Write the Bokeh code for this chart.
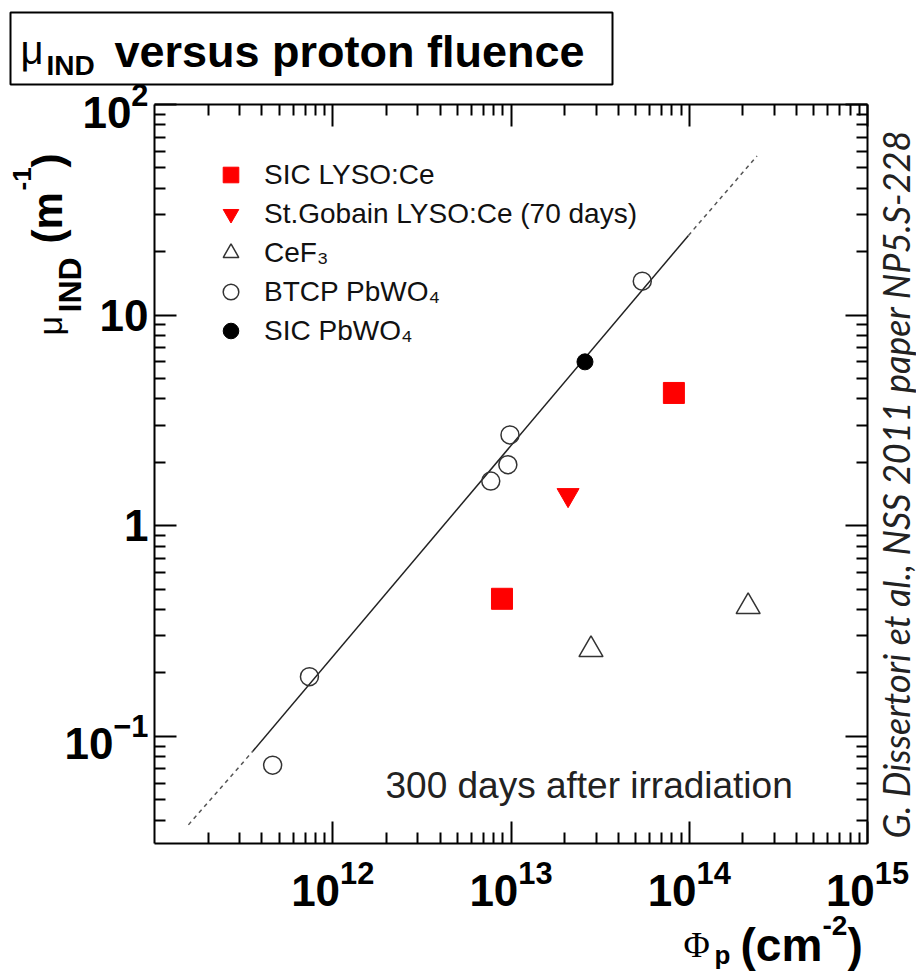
import math
from bokeh.plotting import figure
from bokeh.models import (LogAxis, FixedTicker, LogTickFormatter, CustomJSTickFormatter,
                          Label, Legend, LegendItem, BoxAnnotation)
from bokeh.embed import file_html
from bokeh.resources import INLINE

# ---------------- data ----------------
sic_lyso_x = [8.9e12, 8.2e13]
sic_lyso_y = [0.45, 4.27]
sg_lyso_x = [2.09e13]
sg_lyso_y = [1.40]
cef3_x = [2.81e13, 2.14e14]
cef3_y = [0.258, 0.413]
btcp_x = [4.6e11, 7.4e11, 7.7e12, 9.6e12, 9.87e12, 5.45e13]
btcp_y = [0.073, 0.192, 1.63, 1.95, 2.70, 14.5]
sic_pwo_x = [2.6e13]
sic_pwo_y = [6.0]

fit_low_x = [1.55e11, 3.56e11]
fit_low_y = [0.038, 0.085]
fit_mid_x = [3.56e11, 9.9e13]
fit_mid_y = [0.085, 23.9]
fit_high_x = [9.9e13, 2.4e14]
fit_high_y = [23.9, 57.0]

x_major = [1e12, 1e13, 1e14, 1e15]
y_major = [0.1, 1, 10, 100]
x_lim = (1e11, 1e15)
y_lim = (0.031, 100)

legend_labels = ["SIC LYSO:Ce", "St.Gobain LYSO:Ce (70 days)", "CeF\u2083",
                 "BTCP PbWO\u2084", "SIC PbWO\u2084"]

# ---------------- layout (pixels) ----------------
W, H = 916, 971
FL, FR, FT, FB = 154, 867, 104, 843   # axes box edges in the picture

# The frame covers the whole canvas; the axes box is drawn by axes fixed at the limits.
lx = (math.log10(x_lim[1]) - math.log10(x_lim[0])) / (FR - FL)
ly = (math.log10(y_lim[1]) - math.log10(y_lim[0])) / (FB - FT)
x_rng = (10 ** (math.log10(x_lim[0]) - FL * lx), 10 ** (math.log10(x_lim[1]) + (W - FR) * lx))
y_rng = (10 ** (math.log10(y_lim[0]) - (H - FB) * ly), 10 ** (math.log10(y_lim[1]) + FT * ly))

p = figure(width=W, height=H, x_axis_type="log", y_axis_type="log",
           x_range=x_rng, y_range=y_rng, toolbar_location=None,
           output_backend="svg", min_border=0)
p.grid.visible = False
p.outline_line_color = None
p.background_fill_color = "white"
p.border_fill_color = "white"

x_minor = [m * 10.0 ** e for e in range(11, 15) for m in range(2, 10)]
y_minor = [m * 10.0 ** e for e in range(-2, 2) for m in range(2, 10)
           if y_lim[0] <= m * 10.0 ** e <= y_lim[1]]
xt = FixedTicker(ticks=x_major, minor_ticks=x_minor)
yt = FixedTicker(ticks=y_major, minor_ticks=y_minor)

FONT = "Liberation Sans"

def style_axis(ax, labels=True):
    ax.axis_line_width = 2
    ax.axis_line_color = "black"
    ax.major_tick_in = 22
    ax.major_tick_out = 0
    ax.minor_tick_in = 11
    ax.minor_tick_out = 0
    ax.major_tick_line_width = 2
    ax.minor_tick_line_width = 2
    ax.major_tick_line_color = "black"
    ax.minor_tick_line_color = "black"
    ax.major_label_text_font = FONT
    ax.major_label_text_font_style = "bold"
    ax.major_label_text_font_size = "44px"
    ax.major_label_text_color = "black"
    if not labels:
        ax.formatter = CustomJSTickFormatter(code="return ''")
        ax.major_label_text_font_size = "1px"
        ax.major_label_standoff = 0

xa = p.xaxis[0]
xa.ticker = xt
xa.formatter = LogTickFormatter()
xa.fixed_location = y_lim[0]
xa.bounds = x_lim
style_axis(xa)
xa.major_label_standoff = 16

ya = p.yaxis[0]
ya.ticker = yt
ya.formatter = LogTickFormatter()
ya.major_label_overrides = {1: "1", 10: "10"}
ya.fixed_location = x_lim[0]
ya.bounds = y_lim
style_axis(ya)
ya.major_label_standoff = 6

top_ax = LogAxis(ticker=xt, fixed_location=y_lim[1], bounds=x_lim)
style_axis(top_ax, labels=False)
p.add_layout(top_ax, "above")
right_ax = LogAxis(ticker=yt, fixed_location=x_lim[1], bounds=y_lim)
style_axis(right_ax, labels=False)
p.add_layout(right_ax, "right")

# ---------------- fit line ----------------
p.line(fit_low_x, fit_low_y, line_color="#555555", line_width=1.5, line_dash="4 4")
p.line(fit_mid_x, fit_mid_y, line_color="#222222", line_width=1.5)
p.line(fit_high_x, fit_high_y, line_color="#555555", line_width=1.5, line_dash="4 4")

# ---------------- markers ----------------
r_sq = p.scatter(sic_lyso_x, sic_lyso_y, marker="square", size=21,
                 fill_color="#ff0000", line_color="#ff0000")
r_it = p.scatter(sg_lyso_x, sg_lyso_y, marker="inverted_triangle", size=22,
                 fill_color="#ff0000", line_color="#ff0000")
r_tr = p.scatter(cef3_x, cef3_y, marker="triangle", size=24,
                 fill_color=None, line_color="#333333", line_width=1.5)
r_oc = p.scatter(btcp_x, btcp_y, marker="circle", size=18,
                 fill_color="white", fill_alpha=0, line_color="#333333", line_width=1.5)
r_fc = p.scatter(sic_pwo_x, sic_pwo_y, marker="circle", size=16,
                 fill_color="black", line_color="black")

items = [LegendItem(label=l, renderers=[r]) for l, r in
         zip(legend_labels, [r_sq, r_it, r_tr, r_oc, r_fc])]
leg = Legend(items=items, location=(211, H - 350), margin=0, padding=0,
             border_line_color=None, background_fill_alpha=0,
             glyph_width=39, glyph_height=39, label_height=30, spacing=0,
             label_standoff=14, label_text_font=FONT, label_text_font_size="28px",
             label_text_color="#111111")
p.add_layout(leg, "center")

# helper: label whose baseline starts at picture pixel (X, Y)
SHIFT = 13  # renderer places the baseline this much lower than requested
def lab(text, X, Y, size, style="normal", font=FONT, angle=0, color="black"):
    if angle:
        X = X - SHIFT
    else:
        Y = Y - SHIFT
    return Label(x=X, y=H - Y, x_units="screen", y_units="screen",
                 text=text, text_font=font, text_font_size=f"{size}px",
                 text_font_style=style, text_color=color, angle=angle,
                 text_baseline="alphabetic", text_align="left")

# annotation inside the axes box
p.add_layout(lab("300 days after irradiation", 385, 798, 37, color="#222222"))

# x-axis title: Phi_p (cm^-2)
p.add_layout(lab("\u03a6", 683, 957, 36, font="Liberation Serif"))
p.add_layout(lab("p", 714, 967, 26, style="bold"))
p.add_layout(lab("(cm", 740, 957, 46, style="bold"))
p.add_layout(lab("-2", 822, 938, 28, style="bold"))
p.add_layout(lab(")", 847, 957, 46, style="bold"))

# y-axis title: mu_IND (m^-1), rotated
rot = math.pi / 2
p.add_layout(lab("\u03bc", 62, 335, 34, angle=rot))
p.add_layout(lab("IND", 82, 312, 32, style="bold", angle=rot))
p.add_layout(lab("(m", 60, 243, 42, style="bold", angle=rot))
p.add_layout(lab("-1", 34, 190, 26, style="bold", angle=rot))
p.add_layout(lab(")", 60, 167, 42, style="bold", angle=rot))

# citation on the right
p.add_layout(lab("G. Dissertori et al., NSS 2011 paper NP5.S-228", 908, 838, 36,
                 style="italic", font="Lato", angle=rot, color="#222222"))

# title box
box = BoxAnnotation(left=10, right=612, top=H - 12, bottom=H - 84,
                    left_units="screen", right_units="screen", top_units="screen",
                    bottom_units="screen", fill_alpha=0, line_color="black",
                    line_alpha=1, line_width=2)
p.add_layout(box)
p.add_layout(lab("\u03bc", 20, 62, 40))
p.add_layout(lab("IND", 46, 78, 28, style="bold"))
p.add_layout(lab("versus proton fluence", 114, 64, 45, style="bold"))

open("out.html", "w").write(file_html(p, INLINE))
